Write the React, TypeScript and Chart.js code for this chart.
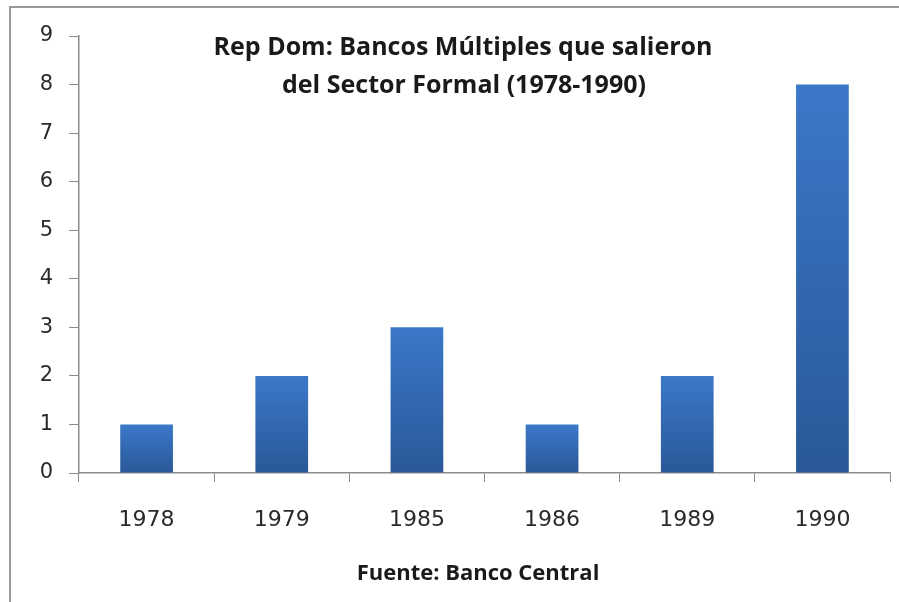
import React, { useEffect, useRef } from "react";
import { Chart, registerables } from "chart.js";

Chart.register(...registerables);

const categories = ["1978", "1979", "1985", "1986", "1989", "1990"];
const bancosSalidos = [1, 2, 3, 1, 2, 8];
const titleLines = ["Rep Dom: Bancos Múltiples que salieron", "del Sector Formal (1978-1990)"];
const sourceText = "Fuente: Banco Central";

const decorPlugin = {
  id: "decor",
  beforeDraw(chart: any) {
    const ctx = chart.ctx;
    ctx.save();
    ctx.fillStyle = "#ffffff";
    ctx.fillRect(0, 0, chart.width, chart.height);
    ctx.strokeStyle = "#9a9a9a";
    ctx.lineWidth = 2;
    ctx.beginPath();
    ctx.moveTo(10, chart.height + 5);
    ctx.lineTo(10, 7);
    ctx.lineTo(chart.width + 5, 7);
    ctx.stroke();
    ctx.restore();
  },
  afterDraw(chart: any) {
    const ctx = chart.ctx;
    ctx.save();
    ctx.fillStyle = "#1a1a1a";
    ctx.textAlign = "center";
    ctx.textBaseline = "middle";
    ctx.font = "bold 25px 'Open Sans', Lato, sans-serif";
    ctx.fillText(titleLines[0], 463, 48);
    ctx.fillText(titleLines[1], 464, 86);
    ctx.font = "bold 22px 'Open Sans', Lato, sans-serif";
    ctx.fillText(sourceText, 478, 574);
    ctx.restore();
  },
};

export default function App() {
  const ref = useRef<HTMLCanvasElement | null>(null);
  useEffect(() => {
    if (!ref.current) return;
    const chart = new Chart(ref.current, {
      type: "bar",
      data: {
        labels: categories,
        datasets: [
          {
            data: bancosSalidos,
            backgroundColor: (c: any) => {
              const ch = c.chart;
              const ys = ch.scales && ch.scales.y;
              if (!ys || c.parsed == null) return "#336cb8";
              const top = ys.getPixelForValue(c.parsed.y);
              const bot = ys.getPixelForValue(0);
              if (!isFinite(top) || !isFinite(bot) || top === bot) return "#336cb8";
              const g = ch.ctx.createLinearGradient(0, top, 0, bot);
              g.addColorStop(0, "#3b78c8");
              g.addColorStop(1, "#2a5898");
              return g;
            },
            borderWidth: 0,
            barPercentage: 0.39,
            categoryPercentage: 1,
          },
        ],
      },
      options: {
        responsive: false,
        animation: false,
        layout: { padding: { top: 36, right: 9, bottom: 0, left: 0 } },
        plugins: { legend: { display: false }, tooltip: { enabled: false }, title: { display: false } },
        scales: {
          x: {
            grid: { display: true, drawOnChartArea: false, color: "#8c8c8c", tickLength: 9, offset: true },
            border: { color: "#8c8c8c", width: 1.5 },
            ticks: { color: "#2a2a2a", font: { family: "'DejaVu Sans'", size: 22 }, padding: 25 },
            afterFit: (s: any) => { s.height = 129; },
          },
          y: {
            min: 0,
            max: 9,
            grid: { display: true, drawOnChartArea: false, color: "#8c8c8c", tickLength: 10 },
            border: { color: "#8c8c8c", width: 1.5 },
            ticks: { stepSize: 1, color: "#2a2a2a", font: { family: "'DejaVu Sans'", size: 21 }, padding: 16 },
            afterFit: (s: any) => { s.width = 79; },
          },
        },
      },
      plugins: [decorPlugin],
    });
    return () => chart.destroy();
  }, []);
  return (
    <div style={{ position: "absolute", left: 0, top: 0, width: 899, height: 602, background: "#fff" }}>
      <canvas ref={ref} width={899} height={602} style={{ display: "block" }} />
    </div>
  );
}
